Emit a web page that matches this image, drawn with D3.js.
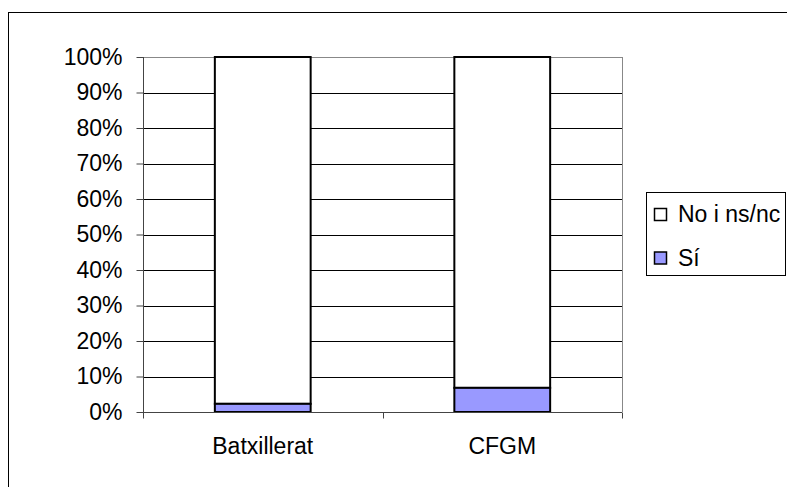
<!DOCTYPE html>
<html><head><meta charset="utf-8">
<script src="https://cdn.jsdelivr.net/npm/d3@7"></script>
<style>body{margin:0;background:#fff}svg{display:block}</style>
</head><body>
<svg id="c" width="787" height="487"></svg>
<script>
const categories = ["Batxillerat", "CFGM"];
const siValues = [2.3, 6.8];
const noValues = [97.7, 93.2];
const seriesNames = ["No i ns/nc", "Sí"];
const seriesColors = ["#ffffff", "#9999ff"];
const yTicks = [0,10,20,30,40,50,60,70,80,90,100];

const svg = d3.select("#c");
const font = "'Liberation Sans', Arial, sans-serif";
const fs = 23;
svg.append("rect").attr("x",8.5).attr("y",12.5).attr("width",800).attr("height",500)
  .attr("fill","#fff").attr("stroke","#000").attr("stroke-width",1);

const L=143, R=622, T=57, B=412;
const x = d3.scaleBand().domain(categories).range([L,R]).paddingInner(0).paddingOuter(0);
const y = d3.scaleLinear().domain([0,100]).range([B,T]);

// gridlines
svg.append("g").selectAll("line").data(yTicks.filter(d=>d>0)).join("line")
  .attr("x1",L).attr("x2",R).attr("y1",d=>Math.round(y(d))+0.5).attr("y2",d=>Math.round(y(d))+0.5)
  .attr("stroke",d=>d===100?"#888":"#000").attr("stroke-width",1);
svg.append("line").attr("x1",R+0.5).attr("x2",R+0.5).attr("y1",T).attr("y2",B).attr("stroke","#888");

const stack = categories.map((c,i)=>({c, si:siValues[i], no:noValues[i]}));
const bw = x.bandwidth()*0.4;
const bars = svg.append("g");
stack.forEach(d=>{
  const cx = x(d.c)+x.bandwidth()/2;
  bars.append("rect").attr("x",cx-bw/2).attr("width",bw)
    .attr("y",y(d.si+d.no)).attr("height",y(d.si)-y(d.si+d.no))
    .attr("fill",seriesColors[0]).attr("stroke","#000").attr("stroke-width",2);
  bars.append("rect").attr("x",cx-bw/2).attr("width",bw)
    .attr("y",y(d.si)).attr("height",y(0)-y(d.si))
    .attr("fill",seriesColors[1]).attr("stroke","#000").attr("stroke-width",2);
});

// y axis
const ya = svg.append("g").attr("transform",`translate(${L+0.5},0)`)
  .call(d3.axisLeft(y).tickValues(yTicks).tickFormat(d=>d+"%").tickSize(7).tickPadding(14));
ya.select(".domain").attr("stroke","#444").attr("d",`M0,${T}V${B+5}`);
ya.selectAll(".tick line").attr("stroke","#444");
ya.selectAll("text").attr("font-family",font).attr("font-size",fs).attr("fill","#000");

// x axis
const xa = svg.append("g").attr("transform",`translate(0,${B+0.5})`);
xa.append("line").attr("x1",L).attr("x2",R).attr("stroke","#444");
xa.selectAll(".t").data(d3.range(categories.length+1)).join("line")
  .attr("x1",i=>Math.round(L+i*x.bandwidth())+0.5).attr("x2",i=>Math.round(L+i*x.bandwidth())+0.5)
  .attr("y1",0).attr("y2",6).attr("stroke","#444");
xa.selectAll("text").data(categories).join("text")
  .attr("x",d=>x(d)+x.bandwidth()/2).attr("y",41).attr("text-anchor","middle")
  .attr("font-family",font).attr("font-size",fs).text(d=>d);

// legend
const lg = svg.append("g");
lg.append("rect").attr("x",646.5).attr("y",192.5).attr("width",139).attr("height",83)
  .attr("fill","#fff").attr("stroke","#000");
seriesNames.forEach((n,i)=>{
  const yy = 214.5 + i*43.5;
  lg.append("rect").attr("x",654.5).attr("y",yy-6).attr("width",12).attr("height",12)
    .attr("fill",seriesColors[i]).attr("stroke","#000").attr("stroke-width",1.5);
  lg.append("text").attr("x",678).attr("y",yy+7.5).attr("font-family",font).attr("font-size",fs).text(n);
});
</script>
</body></html>
